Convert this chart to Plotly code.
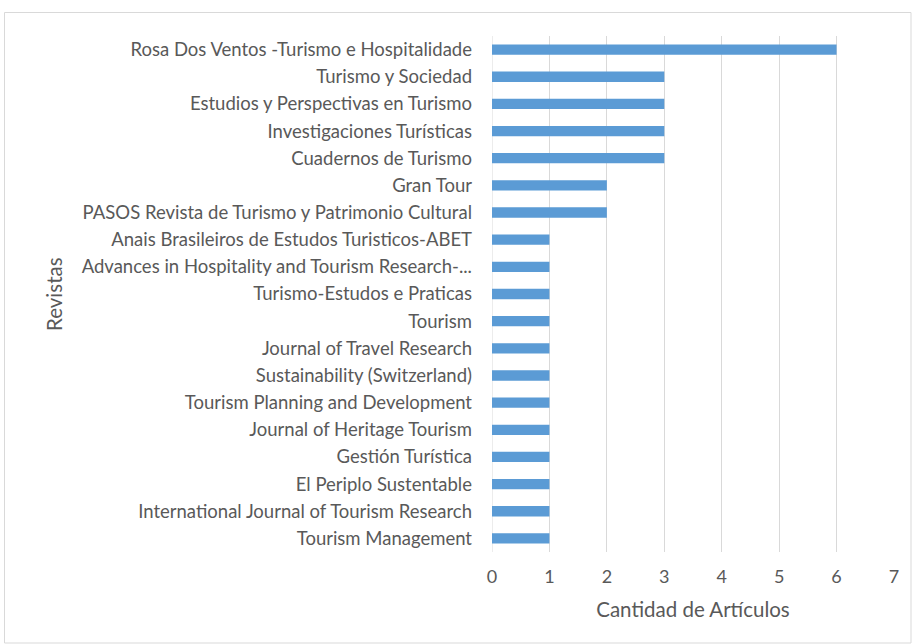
import plotly.graph_objects as go

journals = [
    "Rosa Dos Ventos -Turismo e Hospitalidade",
    "Turismo y Sociedad",
    "Estudios y Perspectivas en Turismo",
    "Investigaciones Turísticas",
    "Cuadernos de Turismo",
    "Gran Tour",
    "PASOS Revista de Turismo y Patrimonio Cultural",
    "Anais Brasileiros de Estudos Turisticos-ABET",
    "Advances in Hospitality and Tourism Research-...",
    "Turismo-Estudos e Praticas",
    "Tourism",
    "Journal of Travel Research",
    "Sustainability (Switzerland)",
    "Tourism Planning and Development",
    "Journal of Heritage Tourism",
    "Gestión Turística",
    "El Periplo Sustentable",
    "International Journal of Tourism Research",
    "Tourism Management",
]
articles = [6, 3, 3, 3, 3, 2, 2, 1, 1, 1, 1, 1, 1, 1, 1, 1, 1, 1, 1]
x_ticks = [0, 1, 2, 3, 4, 5, 6, 7]

FONT = "Lato"
GREY = "#595959"

fig = go.Figure(go.Bar(
    y=journals, x=articles, orientation="h",
    marker=dict(color="#5b9bd5", line=dict(width=0)),
    width=0.38,
))

fig.update_layout(
    width=912, height=644,
    margin=dict(l=492, r=18, t=36, b=92),
    paper_bgcolor="white", plot_bgcolor="white",
    font=dict(family=FONT, color=GREY, size=18.5),
    showlegend=False,
    xaxis=dict(
        range=[0, 7], tickvals=x_ticks, showgrid=True, gridcolor="#d9d9d9",
        gridwidth=1, zeroline=False, showline=False,
        tickfont=dict(size=18, color=GREY), ticks="", ticklabelstandoff=12,
        title=dict(text="Cantidad de Artículos", font=dict(size=20.5, color=GREY), standoff=16),
    ),
    yaxis=dict(
        autorange="reversed", showgrid=False, zeroline=False, showline=False,
        tickfont=dict(size=18.5, color=GREY), ticks="", ticklabelstandoff=19,
    ),
    annotations=[dict(
        text="Revistas", xref="paper", yref="paper",
        x=(54 - 492) / 402, y=(552 - 294) / 516, textangle=-90, showarrow=False,
        xanchor="center", yanchor="middle",
        font=dict(size=20.5, color=GREY, family=FONT),
    )],
    shapes=[dict(
        type="rect", xref="paper", yref="paper",
        x0=(4.5 - 492) / 402, x1=(911 - 492) / 402,
        y0=(552 - 643) / 516, y1=(552 - 12.5) / 516,
        line=dict(color="#d9d9d9", width=1), fillcolor="rgba(0,0,0,0)", layer="below",
    ), dict(
        type="line", xref="x", yref="paper", x0=0, x1=0, y0=0, y1=1,
        line=dict(color="#d9d9d9", width=1), layer="below",
    )],
)

fig.write_html(
    "out.html",
    config={"displayModeBar": False},
    post_script="document.body.style.margin='0';document.body.style.overflow='hidden';",
)
